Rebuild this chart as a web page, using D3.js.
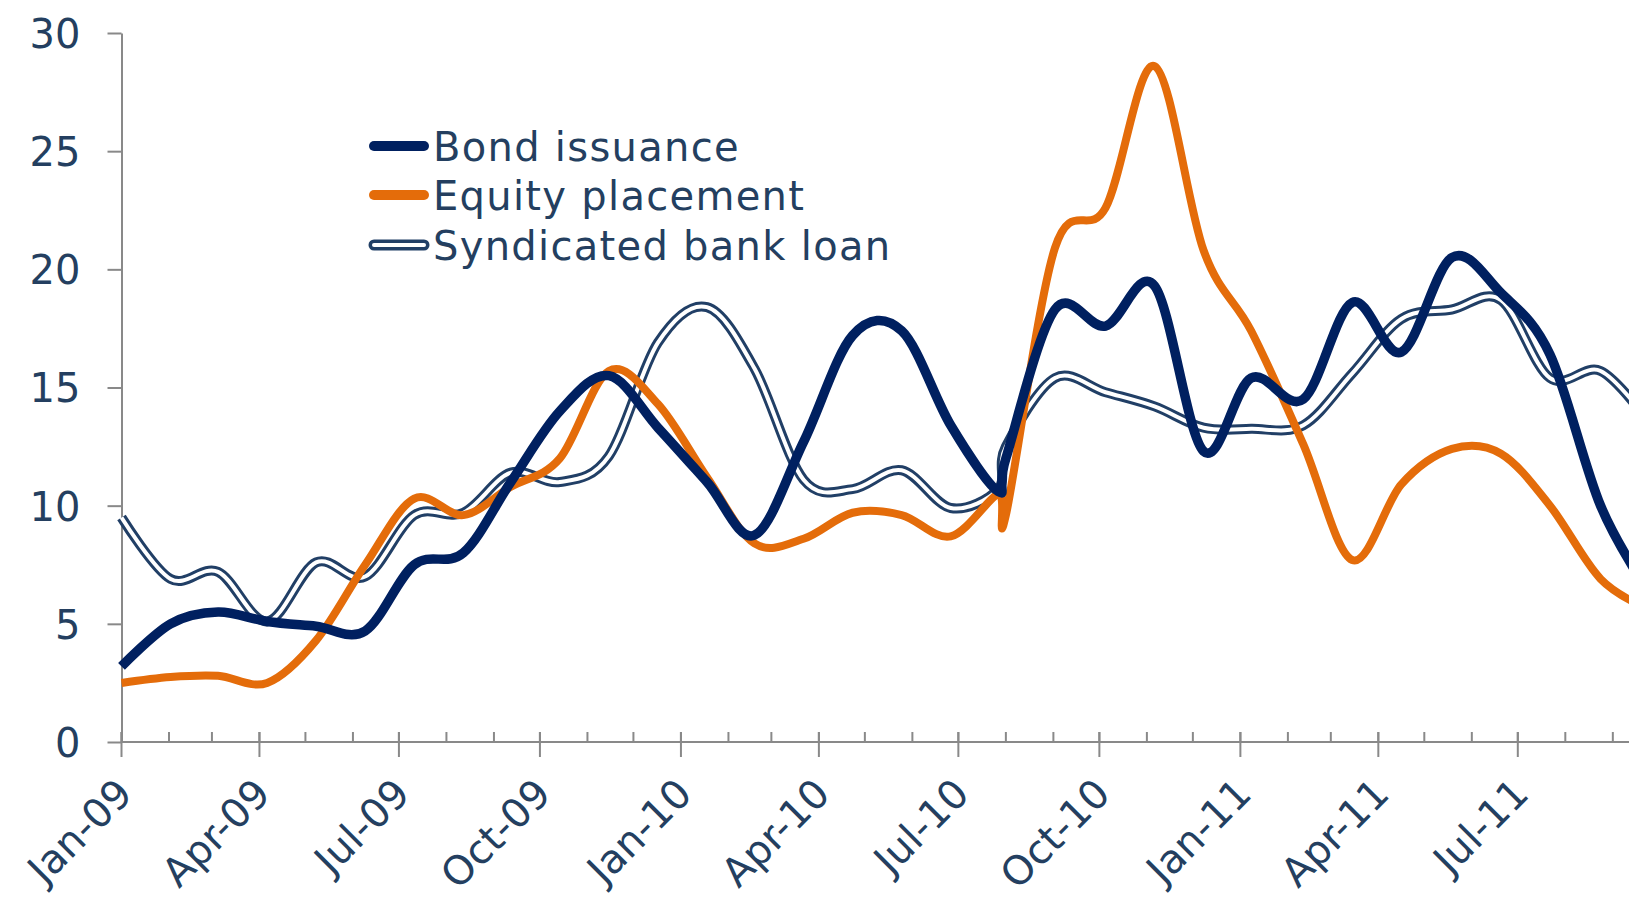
<!DOCTYPE html>
<html lang="en">
<head>
	<meta charset="UTF-8"/>
	<title>Bond, equity and syndicated loan issuance</title>
	<script src="https://d3js.org/d3.v7.min.js"></script>
	<style>
		body { margin: 0; background: #ffffff; }
		svg text { font-family: "DejaVu Sans", Verdana, sans-serif; font-size: 40px; fill: #243f60; }
		.legend text { letter-spacing: 1.3px; }
	</style>
</head>
<body>
<script>

	// ------------- data -------------
	var dates = [
		"2009-01-01","2009-02-02","2009-03-05","2009-04-06","2009-05-08","2009-06-09",
		"2009-07-11","2009-08-12","2009-09-12","2009-10-14","2009-11-15","2009-12-17",
		"2010-01-18","2010-02-18","2010-03-22","2010-04-23","2010-05-25","2010-06-26",
		"2010-07-27","2010-08-01","2010-09-02","2010-10-05","2010-11-06","2010-12-08",
		"2011-01-08","2011-02-11","2011-03-15","2011-04-16","2011-05-19","2011-06-20",
		"2011-07-22","2011-08-24","2011-09-25"
	];

	var bondIssuance = [
		3.2, 5.0, 5.5, 5.1, 4.9, 4.7,
		7.5, 8.0, 11.0, 14.0, 15.5, 13.3,
		11.0, 8.75, 12.7, 17.2, 17.4, 13.4,
		10.6, 12.0, 18.3, 17.6, 19.3, 12.3,
		15.4, 14.5, 18.6, 16.5, 20.5, 19.0,
		16.4, 10.0, 6.3
	];

	var equityPlacement = [
		2.5, 2.75, 2.8, 2.5, 4.3, 7.5,
		10.3, 9.6, 10.8, 12.0, 15.7, 14.3,
		11.2, 8.4, 8.6, 9.7, 9.6, 8.7,
		10.5, 9.6, 20.9, 22.6, 28.6, 20.8,
		17.4, 12.6, 7.7, 10.9, 12.4, 12.2,
		10.0, 6.9, 5.6
	];

	var syndicatedLoan = [
		9.5, 6.9, 7.2, 5.1, 7.6, 7.0,
		9.6, 9.7, 11.4, 11.0, 12.1, 16.9,
		18.4, 15.8, 11.1, 10.7, 11.5, 9.9,
		10.7, 12.5, 15.4, 14.8, 14.2, 13.3,
		13.25, 13.4, 15.6, 17.9, 18.3, 18.7,
		15.4, 15.7, 13.5
	];

	var yTicks = [0, 5, 10, 15, 20, 25, 30];
	var xLabelDates = ["2009-01-01","2009-04-01","2009-07-01","2009-10-01","2010-01-01","2010-04-01",
		"2010-07-01","2010-10-01","2011-01-01","2011-04-01","2011-07-01"];
	var seriesNames = ["Bond issuance", "Equity placement", "Syndicated bank loan"];

	// ------------- layout -------------
	var w = 1629;
	var h = 904;
	var parseDate = d3.utcParse("%Y-%m-%d");
	var navy = "#002060";
	var orange = "#e46c0a";
	var loanBlue = "#213f66";
	var axisGrey = "#898989";

	var svg = d3.select("body")
				.append("svg")
				.attr("width", w)
				.attr("height", h);

	var xScale = d3.scaleUtc()
				.domain([parseDate("2009-01-01"), parseDate("2011-07-01")])
				.range([121.5, 1517.8]);

	var yScale = d3.scaleLinear()
				.domain([0, 30])
				.range([742, 33]);

	var line = function(values) {
		return d3.line()
			.x(function(d, i) { return xScale(parseDate(dates[i])); })
			.y(function(d) { return yScale(d); })
			.curve(d3.curveCardinal.tension(0))(values);
	};

	//------------ y axis -------------
	var yAxis = svg.append("g")
				.attr("transform", "translate(" + xScale.range()[0] + ",0)")
				.call(d3.axisLeft(yScale)
					.tickValues(yTicks)
					.tickSize(14)
					.tickSizeOuter(0)
					.tickPadding(27));
	yAxis.selectAll("path, line").attr("stroke", axisGrey).attr("stroke-width", 2);
	yAxis.selectAll("text").attr("fill", null).attr("dy", "0.36em");
	yAxis.attr("font-size", null).attr("font-family", null);

	//------------ x axis -------------
	var x0 = xScale.range()[0];
	var xAxisG = svg.append("g")
				.attr("transform", "translate(0," + yScale(0) + ")");

	xAxisG.append("line")
		.attr("x1", x0)
		.attr("x2", w)
		.attr("stroke", axisGrey)
		.attr("stroke-width", 2);

	// minor ticks every month, inside only
	var minorTicks = d3.utcMonth.range(parseDate("2009-01-01"), parseDate("2011-11-01"));
	xAxisG.selectAll(".minor")
		.data(minorTicks)
		.enter()
		.append("line")
		.attr("class", "minor")
		.attr("x1", function(d) { return xScale(d); })
		.attr("x2", function(d) { return xScale(d); })
		.attr("y1", -10)
		.attr("y2", 0)
		.attr("stroke", axisGrey)
		.attr("stroke-width", 2);

	// major ticks every quarter, crossing the axis
	var majorTicks = xLabelDates.map(parseDate);
	xAxisG.selectAll(".major")
		.data(majorTicks)
		.enter()
		.append("line")
		.attr("class", "major")
		.attr("x1", function(d) { return xScale(d); })
		.attr("x2", function(d) { return xScale(d); })
		.attr("y1", -10)
		.attr("y2", 15)
		.attr("stroke", axisGrey)
		.attr("stroke-width", 2);

	xAxisG.selectAll(".xlabel")
		.data(majorTicks)
		.enter()
		.append("text")
		.attr("class", "xlabel")
		.attr("text-anchor", "end")
		.attr("transform", function(d) {
			return "translate(" + (xScale(d) + 13) + ",54) rotate(-45)";
		})
		.text(d3.utcFormat("%b-%y"));

	//------------ series lines -------------
	svg.append("path")
		.attr("d", line(syndicatedLoan))
		.attr("fill", "none")
		.attr("stroke", loanBlue)
		.attr("stroke-width", 10)
		.attr("stroke-linejoin", "round");
	svg.append("path")
		.attr("d", line(syndicatedLoan))
		.attr("fill", "none")
		.attr("stroke", "#ffffff")
		.attr("stroke-width", 4)
		.attr("stroke-linejoin", "round");

	svg.append("path")
		.attr("d", line(equityPlacement))
		.attr("fill", "none")
		.attr("stroke", orange)
		.attr("stroke-width", 8)
		.attr("stroke-linejoin", "round");

	svg.append("path")
		.attr("d", line(bondIssuance))
		.attr("fill", "none")
		.attr("stroke", navy)
		.attr("stroke-width", 9.5)
		.attr("stroke-linejoin", "round");

	//------------ legend -------------
	var legendY = [146, 195, 245];
	var legend = svg.append("g").attr("class", "legend");

	legend.append("line")
		.attr("x1", 374).attr("x2", 424)
		.attr("y1", legendY[0]).attr("y2", legendY[0])
		.attr("stroke", navy).attr("stroke-width", 10).attr("stroke-linecap", "round");
	legend.append("line")
		.attr("x1", 374).attr("x2", 424)
		.attr("y1", legendY[1]).attr("y2", legendY[1])
		.attr("stroke", orange).attr("stroke-width", 10).attr("stroke-linecap", "round");
	legend.append("line")
		.attr("x1", 374).attr("x2", 424)
		.attr("y1", legendY[2]).attr("y2", legendY[2])
		.attr("stroke", loanBlue).attr("stroke-width", 11).attr("stroke-linecap", "round");
	legend.append("line")
		.attr("x1", 374).attr("x2", 424)
		.attr("y1", legendY[2]).attr("y2", legendY[2])
		.attr("stroke", "#ffffff").attr("stroke-width", 4).attr("stroke-linecap", "round");

	legend.selectAll("text")
		.data(seriesNames)
		.enter()
		.append("text")
		.attr("x", 433)
		.attr("y", function(d, i) { return legendY[i] + 15; })
		.text(function(d) { return d; });

</script>
</body>
</html>
